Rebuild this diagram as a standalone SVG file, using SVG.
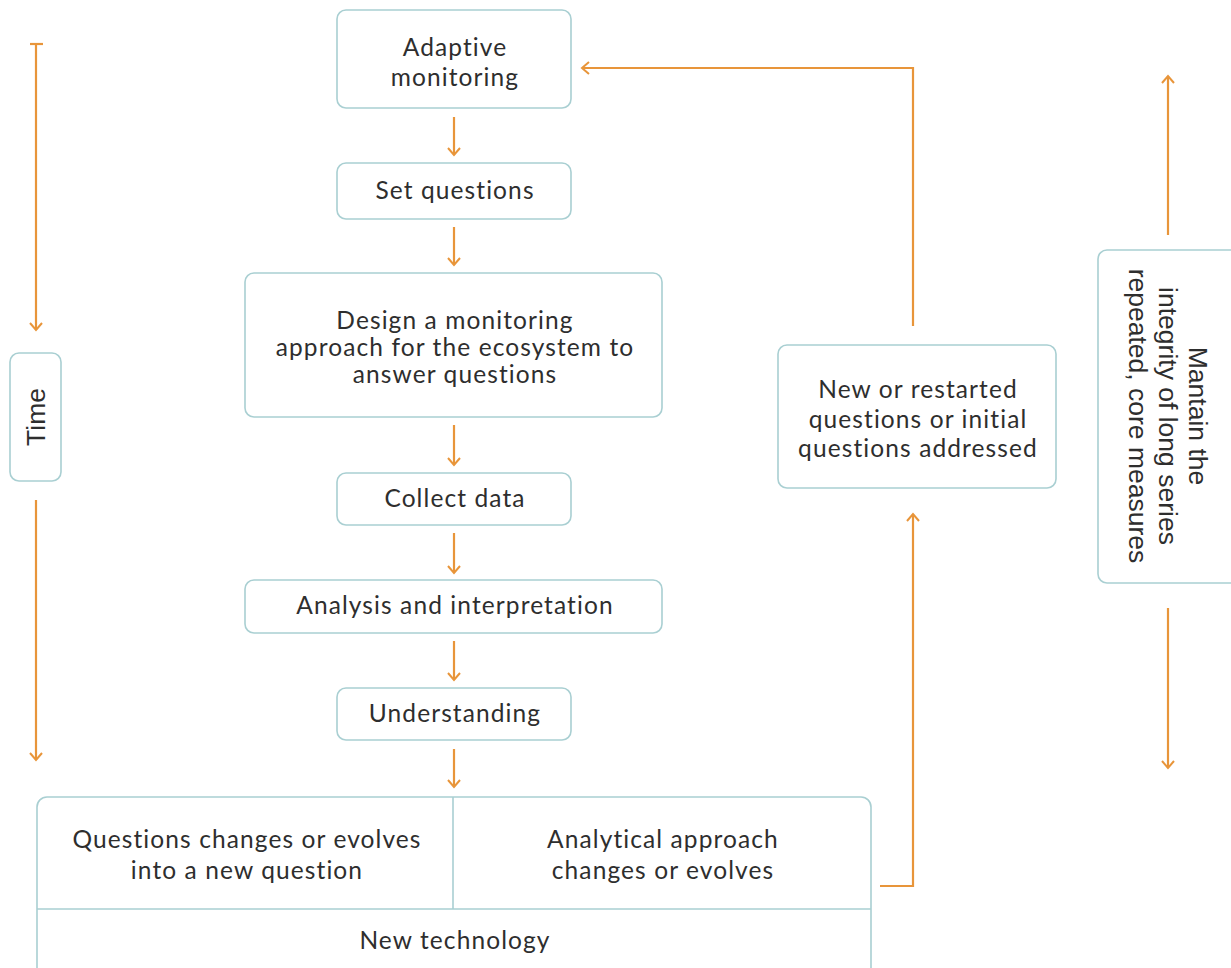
<svg xmlns="http://www.w3.org/2000/svg" width="1231" height="968" viewBox="0 0 1231 968">
  <style>
    .box { fill: #ffffff; stroke: #A9CFD2; stroke-width: 1.6; }
    .div { stroke: #A9CFD2; stroke-width: 1.6; fill: none; }
    .txt { font-family: Lato, "Open Sans", "Liberation Sans", sans-serif; font-size: 24.5px; letter-spacing: 1.1px; fill: #2e2e2e; text-anchor: middle; }
    .vtxt { font-family: "Liberation Sans", Arial, sans-serif; font-size: 26.5px; fill: #2e2e2e; text-anchor: middle; }
    .link { fill: none; stroke: #E8953A; stroke-width: 2.2; }
  </style>
  <defs>
    <marker id="ah" viewBox="0 0 14 14" refX="12" refY="7" markerWidth="14" markerHeight="14" orient="auto" markerUnits="userSpaceOnUse">
      <path d="M5,1 L12,7 L5,13" fill="none" stroke="#E8953A" stroke-width="2"/>
    </marker>
  </defs>
  <rect width="1231" height="968" fill="#ffffff"/>

  <g id="time">
    <rect class="box" x="10" y="353" width="51" height="128" rx="9"/>
    <text class="vtxt" transform="translate(45,417) rotate(-90)">Time</text>
  </g>

  <g id="adaptive-monitoring">
    <rect class="box" x="337" y="10" width="234" height="98" rx="9"/>
    <text class="txt" x="455" y="56">Adaptive</text>
    <text class="txt" x="455" y="86">monitoring</text>
  </g>

  <g id="set-questions">
    <rect class="box" x="337" y="163" width="234" height="56" rx="9"/>
    <text class="txt" x="455" y="199">Set questions</text>
  </g>

  <g id="design">
    <rect class="box" x="245" y="273" width="417" height="144" rx="9"/>
    <text class="txt" x="455" y="329">Design a monitoring</text>
    <text class="txt" x="455" y="356">approach for the ecosystem to</text>
    <text class="txt" x="455" y="383">answer questions</text>
  </g>

  <g id="collect-data">
    <rect class="box" x="337" y="473" width="234" height="52" rx="9"/>
    <text class="txt" x="455" y="507">Collect data</text>
  </g>

  <g id="analysis">
    <rect class="box" x="245" y="580" width="417" height="53" rx="9"/>
    <text class="txt" x="455" y="614">Analysis and interpretation</text>
  </g>

  <g id="understanding">
    <rect class="box" x="337" y="688" width="234" height="52" rx="9"/>
    <text class="txt" x="455" y="722">Understanding</text>
  </g>

  <g id="changes">
    <rect class="box" x="37" y="797" width="834" height="200" rx="10"/>
    <line class="div" x1="453" y1="797" x2="453" y2="909"/>
    <line class="div" x1="37" y1="909" x2="871" y2="909"/>
    <text class="txt" x="247" y="848">Questions changes or evolves</text>
    <text class="txt" x="247" y="879">into a new question</text>
    <text class="txt" x="663" y="848">Analytical approach</text>
    <text class="txt" x="663" y="879">changes or evolves</text>
    <text class="txt" x="455" y="949">New technology</text>
  </g>

  <g id="new-questions">
    <rect class="box" x="778" y="345" width="278" height="143" rx="9"/>
    <text class="txt" x="918" y="398">New or restarted</text>
    <text class="txt" x="918" y="428">questions or initial</text>
    <text class="txt" x="918" y="457">questions addressed</text>
  </g>

  <g id="long-series">
    <rect class="box" x="1098" y="250" width="150" height="333" rx="9"/>
    <g transform="translate(1159,416) rotate(90)">
      <text class="vtxt" x="0" y="-30">Mantain the</text>
      <text class="vtxt" x="0" y="0">integrity of long series</text>
      <text class="vtxt" x="0" y="30">repeated, core measures</text>
    </g>
  </g>

  <g id="connectors">
    <!-- main flow -->
    <line class="link" x1="454" y1="117" x2="454" y2="155" marker-end="url(#ah)"/>
    <line class="link" x1="454" y1="227" x2="454" y2="265" marker-end="url(#ah)"/>
    <line class="link" x1="454" y1="425" x2="454" y2="465" marker-end="url(#ah)"/>
    <line class="link" x1="454" y1="533" x2="454" y2="573" marker-end="url(#ah)"/>
    <line class="link" x1="454" y1="641" x2="454" y2="680" marker-end="url(#ah)"/>
    <line class="link" x1="454" y1="749" x2="454" y2="787" marker-end="url(#ah)"/>
    <!-- feedback loop -->
    <path class="link" d="M880,886 H913 V514" marker-end="url(#ah)"/>
    <path class="link" d="M913,326 V68 H582" marker-end="url(#ah)"/>
    <!-- time axis -->
    <line class="link" x1="36" y1="44" x2="36" y2="330" marker-end="url(#ah)"/>
    <line class="link" x1="30" y1="44" x2="43" y2="44"/>
    <line class="link" x1="36" y1="500" x2="36" y2="760" marker-end="url(#ah)"/>
    <!-- long series axis -->
    <line class="link" x1="1168" y1="235" x2="1168" y2="76" marker-end="url(#ah)"/>
    <line class="link" x1="1168" y1="608" x2="1168" y2="768" marker-end="url(#ah)"/>
  </g>
</svg>
